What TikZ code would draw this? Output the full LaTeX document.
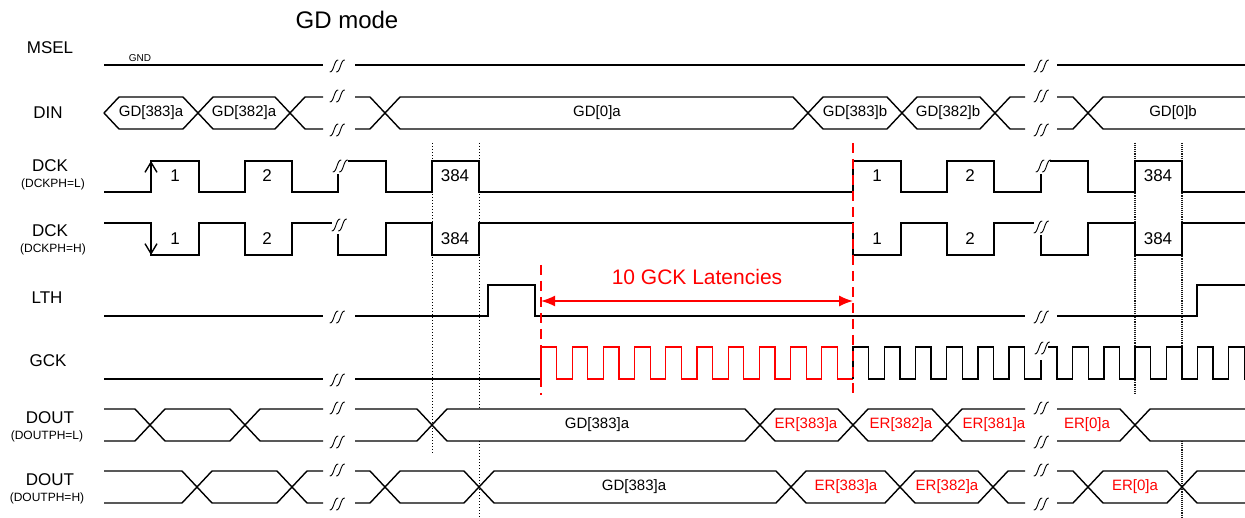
\documentclass[tikz,border=0pt]{standalone}
\usepackage{fontspec}
\setmainfont{Liberation Sans}
\usetikzlibrary{arrows.meta}
\definecolor{latred}{RGB}{255,0,0}

\tikzset{
	sig/.style={line width=1.4pt},
	signame/.style={font=\fontsize{17}{17}\selectfont,inner sep=0},
	signote/.style={font=\fontsize{12}{12}\selectfont,inner sep=0},
	busval/.style={font=\fontsize{15}{15}\selectfont,inner sep=0},
	errval/.style={busval,text=latred},
	cnt/.style={font=\fontsize{17}{17}\selectfont,inner sep=0},
	latline/.style={latred,line width=2.5pt,dash pattern=on 10pt off 6pt},
	guide/.style={line width=1pt,dotted},
	guidedark/.style={line width=1.1pt,densely dotted,black!90},
	brk/.pic={\draw[line width=0.9pt,xslant=0.3] (-6.5,6) .. controls (-2,6.5) and (-6,-6.5) .. (-1.5,-6) (0,6) .. controls (4.5,6.5) and (0.5,-6.5) .. (5,-6);},
}

\begin{document}
\begin{tikzpicture}[x=1pt,y=-1pt]
		\useasboundingbox (0,0) rectangle (1245,518);
		\node (T) at (347,20) {\fontsize{24}{24}\selectfont GD mode};
		% signal names
		\node (MSEL) at (50,48) [signame] {MSEL};
		\node (DIN) at (48,113) [signame] {DIN};
		\node (DCKL) at (50,166) [signame] {DCK};
		\node (DCKLn) at (53,184) [signote] {(DCKPH=L)};
		\node (DCKH) at (50,231) [signame] {DCK};
		\node (DCKHn) at (53,249) [signote] {(DCKPH=H)};
		\node (LTH) at (47,298) [signame] {LTH};
		\node (GCK) at (48,361) [signame] {GCK};
		\node (DOUTL) at (50,418) [signame] {DOUT};
		\node (DOUTLn) at (47,436) [signote] {(DOUTPH=L)};
		\node (DOUTH) at (50,480) [signame] {DOUT};
		\node (DOUTHn) at (47,498) [signote] {(DOUTPH=H)};
		% guides
		\draw[guide] (432,143) -- (432,454);
		\draw[guide] (479,143) -- (479,409);
		\draw[guide] (479,441) -- (479,518);
		\draw[guidedark] (1135,143) -- (1135,393);
		\draw[guidedark] (1182,143) -- (1182,347);
		\draw[guidedark] (1182,441) -- (1182,518);
		% MSEL
		\node (GND) at (140,58) [font=\fontsize{10}{10}\selectfont,inner sep=0] {GND};
		\draw[sig] (104,65) -- (323,65);
		\draw[sig] (355,65) -- (1025,65);
		\draw[sig] (1057,65) -- (1245,65);
		\pic at (338,66) {brk};
		\pic at (1042,66) {brk};
		% DIN
		\draw[sig] (104,113) -- (119,97) -- (183,97) -- (213,129) -- (275,129) -- (305,97) -- (323,97);
		\draw[sig] (104,113) -- (119,129) -- (183,129) -- (213,97) -- (275,97) -- (305,129) -- (323,129);
		\draw[sig] (355,97) -- (370,97) -- (400,129) -- (793,129) -- (823,97) -- (887,97) -- (917,129) -- (980,129) -- (1010,97) -- (1025,97);
		\draw[sig] (355,129) -- (370,129) -- (400,97) -- (793,97) -- (823,129) -- (887,129) -- (917,97) -- (980,97) -- (1010,129) -- (1025,129);
		\draw[sig] (1057,97) -- (1073,97) -- (1103,129) -- (1245,129);
		\draw[sig] (1057,129) -- (1073,129) -- (1103,97) -- (1245,97);
		\pic at (338,96) {brk};
		\pic at (338,130) {brk};
		\pic at (1042,96) {brk};
		\pic at (1042,130) {brk};
		\node (D1) at (151,113) [busval] {GD[383]a};
		\node (D2) at (244,113) [busval] {GD[382]a};
		\node (D3) at (597,113) [busval] {GD[0]a};
		\node (D4) at (855,113) [busval] {GD[383]b};
		\node (D5) at (948,113) [busval] {GD[382]b};
		\node (D6) at (1173,113) [busval] {GD[0]b};
		% DCK (DCKPH=L)
		\draw[sig] (104,192) -- (151,192) -- (151,161) -- (199,161) -- (199,192) -- (245,192) -- (245,161) -- (292,161) -- (292,192) -- (338,192) -- (338,174);
		\draw[sig] (348,161) -- (386,161) -- (386,192) -- (432,192) -- (432,161) -- (479,161) -- (479,192) -- (853,192) -- (853,161) -- (901,161) -- (901,192) -- (947,192) -- (947,161) -- (994,161) -- (994,192) -- (1041,192) -- (1041,174);
		\draw[sig] (1050,161) -- (1088,161) -- (1088,192) -- (1135,192) -- (1135,161) -- (1182,161) -- (1182,192) -- (1245,192);
		\draw[sig,-{Straight Barb[length=10pt,width=12pt]}] (151,185) -- (151,161);
		\pic at (341,166) {brk};
		\pic at (1044,166) {brk};
		\node (L1) at (175,176) [cnt] {1};
		\node (L2) at (267,176) [cnt] {2};
		\node (L3) at (455,176) [cnt] {384};
		\node (L4) at (877,176) [cnt] {1};
		\node (L5) at (970,176) [cnt] {2};
		\node (L6) at (1158,176) [cnt] {384};
		% DCK (DCKPH=H)
		\draw[sig] (104,223) -- (151,223) -- (151,255) -- (199,255) -- (199,223) -- (245,223) -- (245,255) -- (292,255) -- (292,223) -- (332,223);
		\draw[sig] (338,234) -- (338,255) -- (386,255) -- (386,223) -- (432,223) -- (432,255) -- (479,255) -- (479,223) -- (853,223) -- (853,255) -- (901,255) -- (901,223) -- (947,223) -- (947,255) -- (994,255) -- (994,223) -- (1034,223);
		\draw[sig] (1041,235) -- (1041,255) -- (1088,255) -- (1088,223) -- (1135,223) -- (1135,255) -- (1182,255) -- (1182,223) -- (1245,223);
		\draw[sig,-{Straight Barb[length=10pt,width=12pt]}] (151,230) -- (151,255);
		\pic at (340,225) {brk};
		\pic at (1042,227) {brk};
		\node (H1) at (175,239) [cnt] {1};
		\node (H2) at (267,239) [cnt] {2};
		\node (H3) at (455,239) [cnt] {384};
		\node (H4) at (877,239) [cnt] {1};
		\node (H5) at (970,239) [cnt] {2};
		\node (H6) at (1158,239) [cnt] {384};
		% LTH
		\draw[sig] (104,316) -- (323,316);
		\draw[sig] (355,316) -- (488,316) -- (488,285) -- (535,285) -- (535,316) -- (1025,316);
		\draw[sig] (1057,316) -- (1197,316) -- (1197,285) -- (1245,285);
		\pic at (338,317) {brk};
		\pic at (1042,317) {brk};
		% GCK
		\draw[sig] (104,379) -- (323,379);
		\draw[sig] (355,379) -- (541,379);
		\draw[sig,latred,line width=1.2pt] (541,379) \foreach \k in {1,...,10}{ -- ++(0,-32) -- ++(15.6,0) -- ++(0,32) -- ++(15.6,0)};
		\draw[sig] (853,379) \foreach \k in {1,...,6}{ -- ++(0,-32) -- ++(15.6,0) -- ++(0,32) -- ++(15.6,0)} -- (1041,379) -- (1041,360);
		\draw[sig] (1048,347) -- (1057,347) -- (1057,379) \foreach \k in {1,...,6}{ -- ++(15.6,0) -- ++(0,-32) -- ++(15.6,0) -- ++(0,32)} -- (1245,379);
		\pic at (338,380) {brk};
		\pic at (1043,348) {brk};
		% latency
		\draw[latline] (541,265) -- (541,395);
		\draw[latline] (853,143) -- (853,395);
		\coordinate (latA) at (541,301);
		\coordinate (latB) at (853,301);
		\draw[latred,line width=1.5pt,{Latex[length=14pt,width=11pt]}-{Latex[length=14pt,width=11pt]}] (latA) -- (latB);
		\node (LAT) at (697,277) [text=latred,font=\fontsize{21}{21}\selectfont] {10 GCK Latencies};
		% DOUT (DOUTPH=L)
		\draw[sig] (104,409) -- (135,409) -- (165,441) -- (230,441) -- (260,409) -- (323,409);
		\draw[sig] (104,441) -- (135,441) -- (165,409) -- (230,409) -- (260,441) -- (323,441);
		\draw[sig] (355,409) -- (417,409) -- (447,441) -- (745,441) -- (775,409) -- (838,409) -- (868,441) -- (932,441) -- (962,409) -- (1025,409);
		\draw[sig] (355,441) -- (417,441) -- (447,409) -- (745,409) -- (775,441) -- (838,441) -- (868,409) -- (932,409) -- (962,441) -- (1025,441);
		\draw[sig] (1057,409) -- (1120,409) -- (1150,441) -- (1245,441);
		\draw[sig] (1057,441) -- (1120,441) -- (1150,409) -- (1245,409);
		\pic at (338,408) {brk};
		\pic at (338,442) {brk};
		\pic at (1042,408) {brk};
		\pic at (1042,442) {brk};
		\node (OL1) at (597,425) [busval] {GD[383]a};
		\node (OL2) at (806,425) [errval] {ER[383]a};
		\node (OL3) at (901,425) [errval] {ER[382]a};
		\node (OL4) at (994,425) [errval] {ER[381]a};
		\node (OL5) at (1087,425) [errval] {ER[0]a};
		% DOUT (DOUTPH=H)
		\draw[sig] (104,471) -- (182,471) -- (212,503) -- (277,503) -- (307,471) -- (323,471);
		\draw[sig] (104,503) -- (182,503) -- (212,471) -- (277,471) -- (307,503) -- (323,503);
		\draw[sig] (355,471) -- (370,471) -- (400,503) -- (464,503) -- (494,471) -- (776,471) -- (806,503) -- (885,503) -- (915,471) -- (978,471) -- (1008,503) -- (1025,503);
		\draw[sig] (355,503) -- (370,503) -- (400,471) -- (464,471) -- (494,503) -- (776,503) -- (806,471) -- (885,471) -- (915,503) -- (978,503) -- (1008,471) -- (1025,471);
		\draw[sig] (1057,471) -- (1073,471) -- (1103,503) -- (1167,503) -- (1197,471) -- (1245,471);
		\draw[sig] (1057,503) -- (1073,503) -- (1103,471) -- (1167,471) -- (1197,503) -- (1245,503);
		\pic at (338,470) {brk};
		\pic at (338,504) {brk};
		\pic at (1042,470) {brk};
		\pic at (1042,504) {brk};
		\node (OH1) at (634,487) [busval] {GD[383]a};
		\node (OH2) at (846,487) [errval] {ER[383]a};
		\node (OH3) at (947,487) [errval] {ER[382]a};
		\node (OH4) at (1135,487) [errval] {ER[0]a};
	\end{tikzpicture}
\end{document}
